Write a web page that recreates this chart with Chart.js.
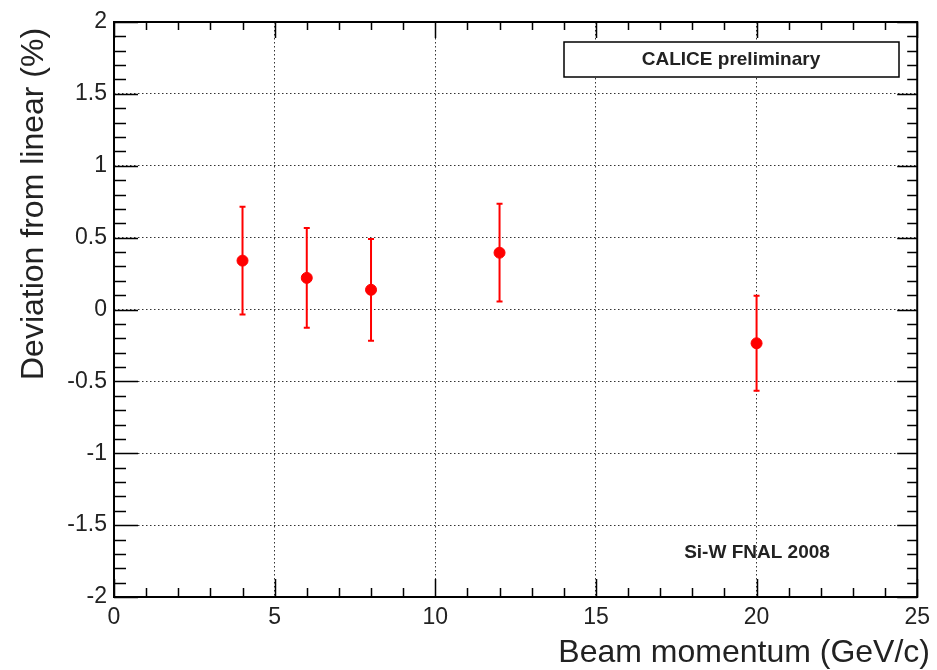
<!DOCTYPE html>
<html>
<head>
<meta charset="utf-8">
<script src="https://cdn.jsdelivr.net/npm/chart.js@4/dist/chart.umd.min.js"></script>
<style>
  html, body { margin: 0; padding: 0; background: #fff; }
  #wrap { width: 937px; height: 670px; }
</style>
</head>
<body>
<div id="wrap"><canvas id="c" width="937" height="670"></canvas></div>
<script>
// data
var momentum = [4, 6, 8, 12, 20];
var deviation = [0.34, 0.22, 0.137, 0.395, -0.235];
var errors = [0.375, 0.347, 0.354, 0.34, 0.33];

var xTitle = 'Beam momentum (GeV/c)';
var yTitle = 'Deviation from linear (%)';
var label1 = 'CALICE preliminary';
var label2 = 'Si-W FNAL 2008';

var FONT = '"Liberation Sans", Arial, Helvetica, sans-serif';

var points = momentum.map(function (m, i) { return { x: m, y: deviation[i] }; });

// error bars, inner ticks, frame and labels
var rootStyle = {
	id: 'rootStyle',
	beforeDatasetsDraw: function (chart) {
		var ctx = chart.ctx;
		var xs = chart.scales.x, ys = chart.scales.y;
		ctx.save();
		ctx.strokeStyle = '#ff0000';
		ctx.lineWidth = 2;
		for (var i = 0; i < momentum.length; i++) {
			var px = xs.getPixelForValue(momentum[i]);
			var top = ys.getPixelForValue(deviation[i] + errors[i]);
			var bot = ys.getPixelForValue(deviation[i] - errors[i]);
			ctx.beginPath();
			ctx.moveTo(px, top); ctx.lineTo(px, bot);
			ctx.moveTo(px - 3, top); ctx.lineTo(px + 3, top);
			ctx.moveTo(px - 3, bot); ctx.lineTo(px + 3, bot);
			ctx.stroke();
		}
		ctx.restore();
	},
	afterDraw: function (chart) {
		var ctx = chart.ctx;
		var a = chart.chartArea;
		var xs = chart.scales.x, ys = chart.scales.y;
		ctx.save();
		ctx.strokeStyle = '#000';
		ctx.lineWidth = 1.5;
		ctx.beginPath();
		// x ticks, bottom and top
		for (var v = 0; v <= 25.001; v += 1) {
			var px = Math.round(xs.getPixelForValue(v)) + 0.5;
			var major = Math.abs(v % 5) < 0.001;
			var lb = major ? 18 : 9, lt = major ? 16 : 8;
			ctx.moveTo(px, a.bottom); ctx.lineTo(px, a.bottom - lb);
			ctx.moveTo(px, a.top); ctx.lineTo(px, a.top + lt);
		}
		// y ticks, left and right
		for (var k = -20; k <= 20; k++) {
			var py = Math.round(ys.getPixelForValue(k / 10)) + 0.5;
			var maj = k % 5 === 0;
			var ll = maj ? 24 : 12, lr = maj ? 20 : 10;
			ctx.moveTo(a.left, py); ctx.lineTo(a.left + ll, py);
			ctx.moveTo(a.right, py); ctx.lineTo(a.right - lr, py);
		}
		ctx.stroke();
		// frame
		ctx.lineWidth = 2;
		ctx.strokeRect(a.left, a.top, a.right - a.left, a.bottom - a.top);

		// text boxes
		ctx.lineWidth = 1.5;
		ctx.fillStyle = '#fff';
		ctx.fillRect(564, 42, 335, 35);
		ctx.strokeRect(564, 42, 335, 35);
		ctx.fillStyle = '#222';
		ctx.font = 'bold 19px ' + FONT;
		ctx.textAlign = 'center';
		ctx.textBaseline = 'middle';
		ctx.fillText(label1, 731, 60);
		ctx.fillText(label2, 757, 553);

		// axis titles
		ctx.font = '32px ' + FONT;
		ctx.textAlign = 'right';
		ctx.textBaseline = 'alphabetic';
		ctx.fillText(xTitle, 930, 662);
		ctx.textAlign = 'left';
		ctx.translate(43, 380);
		ctx.rotate(-Math.PI / 2);
		ctx.fillText(yTitle, 0, 0);
		ctx.restore();
	}
};

var config = {
	type: 'scatter',
	data: {
		datasets: [{
			label: 'deviation',
			data: points,
			backgroundColor: '#ff0000',
			borderColor: '#ff0000',
			pointRadius: 5.5,
			pointHoverRadius: 5.5
		}]
	},
	options: {
		animation: false,
		responsive: false,
		layout: { padding: { top: 22, right: 18, left: 0, bottom: 0 } },
		plugins: {
			legend: { display: false },
			tooltip: { enabled: false }
		},
		scales: {
			x: {
				type: 'linear',
				min: 0, max: 25,
				afterFit: function (s) { s.height = 73; },
				ticks: {
					stepSize: 5,
					padding: 7,
					color: '#222',
					font: { family: FONT, size: 23 },
					maxRotation: 0
				},
				grid: { color: '#333', lineWidth: 1, drawTicks: false },
				border: { display: false, dash: [1.5, 2.5] }
			},
			y: {
				min: -2, max: 2,
				afterFit: function (s) { s.width = 114; },
				ticks: {
					stepSize: 0.5,
					padding: 7,
					color: '#222',
					font: { family: FONT, size: 23 },
					callback: function (v) { return String(Number(v.toFixed(1))); }
				},
				grid: { color: '#333', lineWidth: 1, drawTicks: false },
				border: { display: false, dash: [1.5, 2.5] }
			}
		}
	},
	plugins: [rootStyle]
};

var myChart = new Chart(document.getElementById('c').getContext('2d'), config);
</script>
</body>
</html>
